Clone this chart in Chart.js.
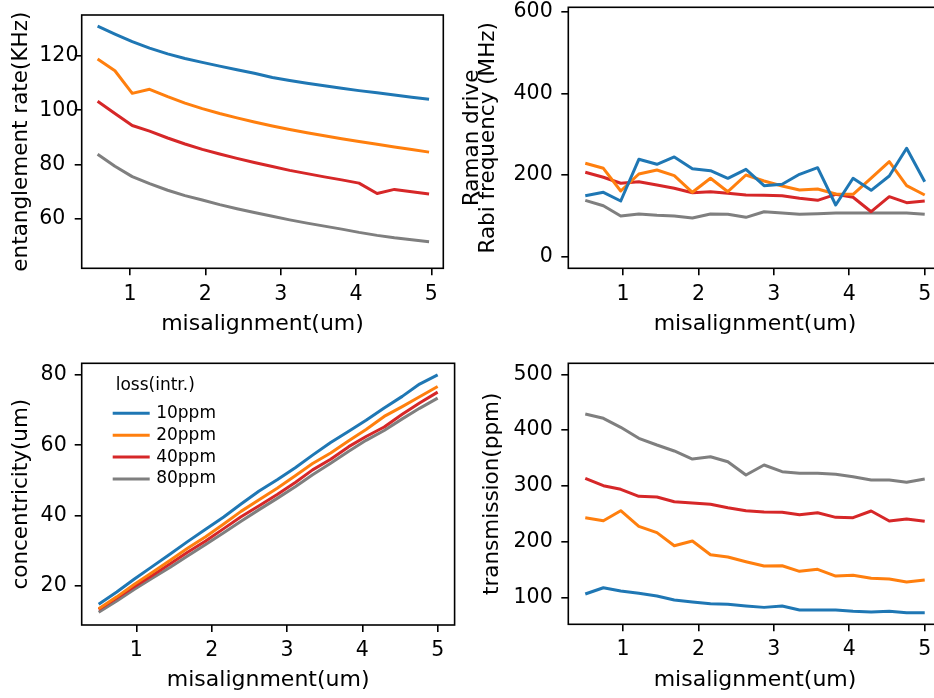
<!DOCTYPE html>
<html>
<head>
<meta charset="utf-8">
<title>misalignment study</title>
<script src="https://cdn.jsdelivr.net/npm/chart.js@4.4.0/dist/chart.umd.min.js"></script>
<style>
  html, body { margin: 0; padding: 0; background: #fff; width: 934px; height: 698px; overflow: hidden; position: relative; }
  canvas { position: absolute; }
</style>
</head>
<body>
<canvas id="rateChart"></canvas>
<canvas id="rabiChart"></canvas>
<canvas id="concChart"></canvas>
<canvas id="transChart"></canvas>
<script>
// series: intrinsic loss of the mirrors
const lossLabels = ['10ppm', '20ppm', '40ppm', '80ppm'];
const lossColors = ['#1f77b4', '#ff7f0e', '#d62728', '#7f7f7f'];
const legendTitle = 'loss(intr.)';
const xTicks = [1, 2, 3, 4, 5];

// misalignment grid (um)
const misalignRate = [0.57, 0.80, 1.03, 1.26, 1.50, 1.73, 1.96, 2.19, 2.42, 2.65, 2.89, 3.12, 3.35, 3.58, 3.81, 4.04, 4.28, 4.51, 4.74, 4.97];
const misalign = [0.50, 0.74, 0.97, 1.21, 1.45, 1.68, 1.92, 2.16, 2.39, 2.63, 2.87, 3.11, 3.34, 3.58, 3.82, 4.05, 4.29, 4.53, 4.76, 5.00];

// entanglement rate (KHz)
const rate10 = [130.9, 128.0, 125.2, 122.8, 120.7, 119.0, 117.6, 116.2, 114.9, 113.6, 112.0, 110.9, 109.9, 109.0, 108.1, 107.2, 106.4, 105.6, 104.8, 104.0];
const rate20 = [118.8, 114.5, 106.2, 107.7, 105.0, 102.6, 100.6, 98.8, 97.2, 95.7, 94.2, 92.9, 91.7, 90.6, 89.5, 88.5, 87.5, 86.5, 85.6, 84.6];
const rate40 = [103.3, 98.8, 94.4, 92.3, 89.8, 87.6, 85.6, 83.9, 82.3, 80.8, 79.3, 77.9, 76.7, 75.5, 74.4, 73.2, 69.4, 70.9, 70.0, 69.2];
const rate80 = [83.8, 79.4, 75.6, 73.0, 70.6, 68.6, 67.0, 65.3, 63.8, 62.4, 61.0, 59.7, 58.5, 57.4, 56.3, 55.1, 54.0, 53.1, 52.4, 51.7];
const rateTicks = [60, 80, 100, 120];

// Raman drive Rabi frequency (MHz)
const rabi10 = [149.4, 157.7, 136.4, 238.5, 226.3, 244.2, 215.5, 210.6, 192.0, 214.0, 173.9, 177.3, 201.8, 218.0, 126.6, 192.0, 162.6, 197.6, 265.5, 183.7];
const rabi20 = [228.7, 216.5, 160.9, 202.5, 212.3, 198.4, 157.7, 192.0, 159.2, 200.1, 185.4, 173.2, 163.4, 165.8, 153.6, 152.8, 192.7, 232.7, 173.9, 151.1];
const rabi40 = [206.7, 194.5, 179.8, 183.7, 175.6, 167.5, 156.7, 159.2, 155.3, 151.1, 150.4, 149.4, 143.0, 138.1, 152.8, 145.5, 110.2, 147.0, 132.3, 136.4];
const rabi80 = [138.1, 124.9, 99.7, 104.6, 101.3, 99.7, 94.8, 104.6, 103.8, 96.4, 110.2, 107.0, 103.8, 105.4, 107.0, 107.0, 107.0, 107.0, 107.0, 103.8];
const rabiTicks = [0, 200, 400, 600];

// concentricity (um)
const conc10 = [14.8, 18.3, 21.9, 25.5, 29.1, 32.6, 36.1, 39.6, 43.3, 47.0, 50.2, 53.6, 57.2, 60.8, 64.0, 67.1, 70.6, 73.9, 77.4, 80.0];
const conc20 = [13.5, 16.9, 20.4, 23.8, 27.3, 30.7, 34.0, 37.6, 41.2, 44.5, 47.8, 51.3, 54.8, 57.8, 61.3, 64.5, 68.2, 71.0, 73.8, 76.7];
const conc40 = [13.3, 16.6, 19.8, 23.0, 26.3, 29.6, 32.8, 36.3, 39.7, 42.8, 46.0, 49.4, 53.0, 56.0, 59.6, 62.5, 65.2, 68.8, 72.0, 75.1];
const conc80 = [12.5, 15.7, 19.0, 22.2, 25.3, 28.5, 31.8, 35.1, 38.4, 41.7, 44.9, 48.2, 51.6, 54.9, 58.3, 61.4, 64.2, 67.5, 70.5, 73.4];
const concTicks = [20, 40, 60, 80];

// transmission (ppm)
const trans10 = [106.6, 117.9, 112.0, 107.8, 103.0, 95.9, 92.3, 89.3, 88.1, 85.1, 82.7, 85.1, 78.0, 78.0, 78.0, 75.6, 74.4, 75.6, 73.2, 73.2];
const trans20 = [243.3, 237.9, 255.8, 227.8, 216.5, 193.1, 201.5, 177.0, 172.8, 164.5, 156.7, 157.3, 147.2, 150.8, 138.8, 140.1, 134.7, 133.5, 128.1, 131.7];
const trans40 = [313.7, 300.5, 294.1, 281.5, 280.3, 271.9, 269.6, 267.2, 261.1, 255.8, 253.4, 252.9, 248.6, 252.2, 243.9, 243.3, 255.2, 237.3, 240.9, 236.8];
const trans80 = [428.9, 421.2, 405.1, 385.4, 373.4, 362.7, 348.3, 352.5, 343.5, 319.7, 337.6, 325.6, 322.7, 322.7, 320.9, 316.7, 310.7, 310.7, 306.6, 312.5];
const transTicks = [100, 200, 300, 400, 500];

Chart.defaults.font.family = "'DejaVu Sans', 'Verdana', sans-serif";
Chart.defaults.color = '#000';

// black box around the plot area, like axes spines
const framePlugin = {
  id: 'frame',
  afterDatasetsDraw(chart) {
    const { ctx, chartArea: a } = chart;
    ctx.save();
    ctx.strokeStyle = '#000';
    ctx.lineWidth = 1.6;
    ctx.strokeRect(a.left, a.top, a.right - a.left, a.bottom - a.top);
    ctx.restore();
  }
};

// legend sitting inside the plot area, no box
const insetLegend = {
  id: 'insetLegend',
  afterDraw(chart) {
    const { ctx, chartArea: a } = chart;
    ctx.save();
    ctx.font = "17px 'DejaVu Sans'";
    ctx.fillStyle = '#000';
    ctx.textBaseline = 'middle';
    ctx.textAlign = 'left';
    ctx.fillText(legendTitle, a.left + 34, a.top + 22);
    chart.data.datasets.forEach((ds, i) => {
      const y = a.top + 50 + i * 21.9;
      ctx.strokeStyle = ds.borderColor;
      ctx.lineWidth = 3;
      ctx.beginPath();
      ctx.moveTo(a.left + 31, y);
      ctx.lineTo(a.left + 68, y);
      ctx.stroke();
      ctx.fillText(ds.label, a.left + 74.5, y);
    });
    ctx.restore();
  }
};

// frame: plot area in page pixels, box: canvas placement
function makePanel(id, frame, box, cfg) {
  const canvas = document.getElementById(id);
  canvas.width = box.w;
  canvas.height = box.h;
  canvas.style.left = box.x + 'px';
  canvas.style.top = box.y + 'px';
  const axisLeft = cfg.axisLeft !== undefined ? cfg.axisLeft : box.x;
  const yAxisWidth = frame.left - axisLeft;
  const xAxisHeight = box.y + box.h - frame.bottom;
  const tickGrid = { drawOnChartArea: false, drawTicks: true, tickLength: 7, color: '#000', lineWidth: 1.6 };

  new Chart(canvas, {
    type: 'line',
    data: {
      datasets: cfg.series.map((ys, i) => ({
        label: lossLabels[i],
        data: cfg.x.map((x, j) => ({ x: x, y: ys[j] })),
        borderColor: lossColors[i],
        borderWidth: 3,
        borderJoinStyle: 'round',
        pointRadius: 0,
        fill: false,
        tension: 0
      }))
    },
    options: {
      responsive: false,
      animation: false,
      devicePixelRatio: 1,
      layout: { padding: { top: frame.top - box.y, right: box.x + box.w - frame.right, left: axisLeft - box.x, bottom: 0 } },
      plugins: { legend: { display: false }, tooltip: { enabled: false } },
      scales: {
        x: {
          type: 'linear',
          min: cfg.xMin,
          max: cfg.xMax,
          afterBuildTicks: s => { s.ticks = xTicks.map(v => ({ value: v })); },
          afterFit: s => { s.height = xAxisHeight; },
          grid: tickGrid,
          border: { display: false },
          ticks: { color: '#000', font: { size: 20.5 }, padding: cfg.xTickPad, maxRotation: 0, autoSkip: false },
          title: {
            display: true,
            text: 'misalignment(um)',
            color: '#000',
            font: { size: 22, lineHeight: 1 },
            padding: { top: 0, bottom: cfg.xTitlePad }
          }
        },
        y: {
          type: 'linear',
          min: cfg.yMin,
          max: cfg.yMax,
          afterBuildTicks: s => { s.ticks = cfg.yTicks.map(v => ({ value: v })); },
          afterFit: s => { s.width = yAxisWidth; },
          grid: tickGrid,
          border: { display: false },
          ticks: { color: '#000', font: { size: 20.5 }, padding: cfg.tickPad, crossAlign: cfg.crossAlign },
          title: {
            display: true,
            text: cfg.yTitle,
            color: '#000',
            font: { size: 21.5, lineHeight: cfg.titleLine },
            padding: { top: cfg.yTitlePad, bottom: 0 }
          }
        }
      }
    },
    plugins: cfg.legend ? [framePlugin, insetLegend] : [framePlugin]
  });
}

// tick labels of this panel start at a common left edge, title sits left of them
makePanel('rateChart',
  { left: 81.7, top: 15, right: 443.3, bottom: 268.3 },
  { x: 0, y: -20, w: 475, h: 365 },
  { x: misalignRate, series: [rate10, rate20, rate40, rate80],
    xMin: 0.359, xMax: 5.159, yMin: 41.9, yMax: 135.0, yTicks: rateTicks,
    yTitle: 'entanglement rate(KHz)', titleLine: 1, yTitlePad: -29,
    axisLeft: 39.3, tickPad: 0, crossAlign: 'far', xTickPad: 7, xTitlePad: 10 });

makePanel('rabiChart',
  { left: 568.3, top: 7.3, right: 941.7, bottom: 268.3 },
  { x: 455, y: -20, w: 520, h: 365 },
  { x: misalign, series: [rabi10, rabi20, rabi40, rabi80],
    xMin: 0.275, xMax: 5.225, yMin: -28.4, yMax: 610.8, yTicks: rabiTicks,
    yTitle: ['Raman drive', 'Rabi frequency (MHz)'], titleLine: '16px', yTitlePad: 9,
    tickPad: 8.6, crossAlign: 'near', xTickPad: 7, xTitlePad: 10 });

makePanel('concChart',
  { left: 81.7, top: 363.3, right: 454.6, bottom: 625 },
  { x: 0, y: 340, w: 490, h: 370 },
  { x: misalign, series: [conc10, conc20, conc40, conc80],
    xMin: 0.275, xMax: 5.225, yMin: 8.9, yMax: 83.3, yTicks: concTicks,
    yTitle: 'concentricity(um)', titleLine: 1, yTitlePad: 10.3,
    tickPad: 8, crossAlign: 'near', xTickPad: 6, xTitlePad: 18.3, legend: true });

makePanel('transChart',
  { left: 568.3, top: 363.3, right: 941.7, bottom: 624.3 },
  { x: 455, y: 340, w: 520, h: 370 },
  { x: misalign, series: [trans10, trans20, trans40, trans80],
    xMin: 0.275, xMax: 5.225, yMin: 52.4, yMax: 519.7, yTicks: transTicks,
    yTitle: 'transmission(ppm)', titleLine: 1, yTitlePad: 26.9,
    tickPad: 8.6, crossAlign: 'near', xTickPad: 6, xTitlePad: 18.3 });
</script>
</body>
</html>
